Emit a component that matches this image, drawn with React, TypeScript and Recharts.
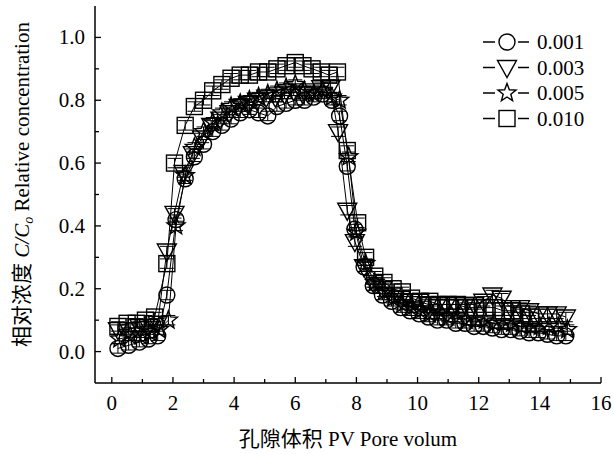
import React from 'react';
import { LineChart, Line, XAxis, YAxis, ErrorBar } from 'recharts';

// ---- data ----
const seriesNames = ['0.001', '0.003', '0.005', '0.010'];

const xCircle = [0.2, 0.55, 0.9, 1.2, 1.5, 1.8, 2.1, 2.4, 2.7, 3.0, 3.3, 3.6, 3.9, 4.2, 4.5, 4.8, 5.1, 5.4, 5.7, 6.0, 6.3, 6.6, 6.9, 7.2, 7.45, 7.7, 7.95, 8.25, 8.55, 8.85, 9.15, 9.45, 9.75, 10.05, 10.35, 10.65, 10.95, 11.25, 11.55, 11.85, 12.15, 12.45, 12.75, 13.05, 13.35, 13.65, 13.95, 14.25, 14.55, 14.85];
const yCircle = [0.01, 0.02, 0.03, 0.04, 0.05, 0.18, 0.42, 0.55, 0.62, 0.66, 0.70, 0.72, 0.74, 0.76, 0.77, 0.76, 0.75, 0.78, 0.79, 0.80, 0.80, 0.81, 0.82, 0.80, 0.75, 0.59, 0.39, 0.27, 0.21, 0.18, 0.16, 0.14, 0.13, 0.12, 0.11, 0.10, 0.10, 0.09, 0.09, 0.08, 0.08, 0.075, 0.07, 0.07, 0.065, 0.06, 0.06, 0.055, 0.05, 0.05];

const xTriangle = [0.2, 0.55, 0.9, 1.2, 1.5, 1.8, 2.05, 2.35, 2.65, 2.95, 3.25, 3.55, 3.85, 4.15, 4.45, 4.75, 5.05, 5.35, 5.65, 5.95, 6.25, 6.55, 6.85, 7.15, 7.4, 7.7, 7.95, 8.25, 8.55, 8.85, 9.15, 9.45, 9.75, 10.05, 10.35, 10.65, 10.95, 11.25, 11.55, 11.85, 12.15, 12.45, 12.75, 13.05, 13.35, 13.65, 13.95, 14.25, 14.55, 14.85];
const yTriangle = [0.07, 0.07, 0.08, 0.08, 0.09, 0.32, 0.44, 0.57, 0.63, 0.68, 0.72, 0.74, 0.76, 0.78, 0.79, 0.80, 0.81, 0.81, 0.82, 0.83, 0.82, 0.83, 0.84, 0.84, 0.70, 0.45, 0.35, 0.27, 0.22, 0.20, 0.18, 0.17, 0.16, 0.16, 0.15, 0.15, 0.15, 0.15, 0.15, 0.15, 0.16, 0.18, 0.17, 0.14, 0.14, 0.13, 0.12, 0.12, 0.12, 0.11];

const xStar = [0.25, 0.6, 0.95, 1.25, 1.55, 1.85, 2.1, 2.4, 2.7, 3.0, 3.3, 3.6, 3.9, 4.2, 4.5, 4.8, 5.1, 5.4, 5.7, 6.0, 6.3, 6.6, 6.9, 7.2, 7.45, 7.75, 8.0, 8.3, 8.6, 8.9, 9.2, 9.5, 9.8, 10.1, 10.4, 10.7, 11.0, 11.3, 11.6, 11.9, 12.2, 12.5, 12.8, 13.1, 13.4, 13.7, 14.0, 14.3, 14.6, 14.9];
const yStar = [0.04, 0.05, 0.05, 0.06, 0.07, 0.10, 0.40, 0.56, 0.65, 0.70, 0.73, 0.76, 0.78, 0.79, 0.80, 0.81, 0.82, 0.83, 0.84, 0.85, 0.83, 0.82, 0.83, 0.81, 0.80, 0.62, 0.38, 0.28, 0.22, 0.19, 0.17, 0.15, 0.14, 0.13, 0.12, 0.12, 0.11, 0.11, 0.10, 0.10, 0.10, 0.09, 0.09, 0.09, 0.08, 0.08, 0.08, 0.08, 0.08, 0.07];

const xSquare = [0.2, 0.5, 0.8, 1.1, 1.4, 1.8, 2.05, 2.4, 2.7, 3.0, 3.3, 3.6, 3.9, 4.2, 4.5, 4.8, 5.1, 5.4, 5.7, 6.0, 6.25, 6.55, 6.85, 7.1, 7.38, 7.7, 8.04, 8.3, 8.6, 8.9, 9.2, 9.5, 9.8, 10.1, 10.4, 10.7, 11.0, 11.3, 11.6, 11.9, 12.2, 12.5, 12.8, 13.1, 13.4, 13.7];
const ySquare = [0.08, 0.09, 0.09, 0.10, 0.11, 0.28, 0.60, 0.72, 0.78, 0.80, 0.83, 0.85, 0.87, 0.88, 0.88, 0.89, 0.89, 0.90, 0.91, 0.92, 0.91, 0.90, 0.89, 0.88, 0.89, 0.64, 0.41, 0.30, 0.24, 0.22, 0.20, 0.19, 0.17, 0.16, 0.16, 0.15, 0.15, 0.15, 0.14, 0.14, 0.14, 0.14, 0.13, 0.13, 0.12, 0.11];

// typical half-width of the small error bars drawn through each marker
const errCircle = 0.015;
const errTriangle = 0.015;
const errStar = 0.015;
const errSquare = 0.015;

const xTicks = [0, 1, 2, 3, 4, 5, 6, 7, 8, 9, 10, 11, 12, 13, 14, 15, 16];
const yTicks = [0, 0.1, 0.2, 0.3, 0.4, 0.5, 0.6, 0.7, 0.8, 0.9, 1.0];

const xLabel = '孔隙体积 PV Pore volum';

const toRows = (xs: number[], ys: number[], e: number) => xs.map((x, i) => ({ x, y: ys[i], err: e }));
const dataCircle = toRows(xCircle, yCircle, errCircle);
const dataTriangle = toRows(xTriangle, yTriangle, errTriangle);
const dataStar = toRows(xStar, yStar, errStar);
const dataSquare = toRows(xSquare, ySquare, errSquare);

const FONT = '"Liberation Serif", "Noto Sans CJK SC", serif';

type Shape = 'circle' | 'triangle' | 'star' | 'square';

function starPoints(cx: number, cy: number, ro: number, ri: number) {
  const pts: string[] = [];
  for (let i = 0; i < 10; i++) {
    const r = i % 2 === 0 ? ro : ri;
    const a = -Math.PI / 2 + (i * Math.PI) / 5;
    pts.push(`${cx + r * Math.cos(a)},${cy + r * Math.sin(a)}`);
  }
  return pts.join(' ');
}

function Marker({ shape, cx, cy }: { shape: Shape; cx: number; cy: number }) {
  const common = { fill: 'none', stroke: '#000', strokeWidth: 1.4 };
  if (shape === 'circle') return <circle cx={cx} cy={cy} r={8} {...common} />;
  if (shape === 'square') return <rect x={cx - 8} y={cy - 8} width={16} height={16} {...common} />;
  if (shape === 'triangle')
    return <polygon points={`${cx - 9.5},${cy - 7} ${cx + 9.5},${cy - 7} ${cx},${cy + 10}`} {...common} />;
  return <polygon points={starPoints(cx, cy, 9.5, 4)} {...common} />;
}

const makeDot = (shape: Shape) => (props: any) => {
  const { cx, cy, index } = props;
  if (cx == null || cy == null) return <g key={`${shape}-${index}`} />;
  return (
    <g key={`${shape}-${index}`}>
      <Marker shape={shape} cx={cx} cy={cy} />
    </g>
  );
};

const XTick = (props: any) => {
  const { x, y, payload } = props;
  const v = payload.value as number;
  const major = v % 2 === 0;
  return (
    <g>
      <line x1={x} y1={y} x2={x} y2={y - (major ? 6 : 4)} stroke="#000" strokeWidth={1.3} />
      {major && (
        <text x={x} y={y + 27} textAnchor="middle" fontFamily={FONT} fontSize={21} fill="#000">
          {v}
        </text>
      )}
    </g>
  );
};

const YTick = (props: any) => {
  const { x, y, payload } = props;
  const v = payload.value as number;
  const major = Math.round(v * 10) % 2 === 0;
  return (
    <g>
      <line x1={x} y1={y} x2={x + (major ? 6 : 4)} y2={y} stroke="#000" strokeWidth={1.3} />
      {major && (
        <text x={x - 10} y={y + 7} textAnchor="end" fontFamily={FONT} fontSize={21} fill="#000">
          {v.toFixed(1)}
        </text>
      )}
    </g>
  );
};

const YLabel = (props: any) => {
  const vb = props.viewBox || {};
  const cx = (vb.x ?? 0) + 22;
  const cy = (vb.y ?? 0) + (vb.height ?? 0) / 2 - 10;
  return (
    <text
      x={cx}
      y={cy}
      transform={`rotate(-90 ${cx} ${cy})`}
      textAnchor="middle"
      dominantBaseline="central"
      fontFamily={FONT}
      fontSize={21}
      fill="#000"
    >
      <tspan>相对浓度 </tspan>
      <tspan fontStyle="italic">C/C</tspan>
      <tspan fontStyle="italic" fontSize={14} dy={6}>o</tspan>
      <tspan dy={-6}> Relative concentration</tspan>
    </text>
  );
};

const XLabel = (props: any) => {
  const vb = props.viewBox || {};
  const cx = (vb.x ?? 0) + (vb.width ?? 0) / 2;
  const y = (vb.y ?? 0) + 63;
  return (
    <text x={cx} y={y} textAnchor="middle" fontFamily={FONT} fontSize={21} fill="#000">
      {xLabel}
    </text>
  );
};

const legendShapes: Shape[] = ['circle', 'triangle', 'star', 'square'];

const errBar = <ErrorBar dataKey="err" direction="y" width={7} stroke="#000" strokeWidth={1} />;

export default function App() {
  return (
    <div style={{ position: 'absolute', left: 0, top: 0, width: 614, height: 454, background: '#fff' }}>
      <LineChart width={614} height={454} margin={{ top: 6, right: 13, bottom: 0, left: 0 }}>
        <XAxis
          dataKey="x"
          type="number"
          domain={[-0.55, 16]}
          ticks={xTicks}
          interval={0}
          allowDataOverflow
          height={71}
          tickSize={0}
          tickMargin={0}
          tickLine={false}
          axisLine={{ stroke: '#000', strokeWidth: 1.5 }}
          tick={<XTick />}
          label={<XLabel />}
        />
        <XAxis
          xAxisId="top"
          orientation="top"
          type="number"
          domain={[-0.55, 16]}
          height={0}
          tick={false}
          tickLine={false}
          axisLine={{ stroke: '#000', strokeWidth: 1.5 }}
        />
        <YAxis
          type="number"
          domain={[-0.1, 1.1]}
          ticks={yTicks}
          interval={0}
          allowDataOverflow
          width={95}
          tickSize={0}
          tickMargin={0}
          tickLine={false}
          axisLine={{ stroke: '#000', strokeWidth: 1.5 }}
          tick={<YTick />}
          label={<YLabel />}
        />
        <YAxis
          yAxisId="right"
          orientation="right"
          type="number"
          domain={[-0.1, 1.1]}
          width={0}
          tick={false}
          tickLine={false}
          axisLine={{ stroke: '#000', strokeWidth: 1.5 }}
        />
        <Line data={dataSquare} dataKey="y" name={seriesNames[3]} stroke="#000" strokeWidth={1} dot={makeDot('square')} activeDot={false} isAnimationActive={false}>
          {errBar}
        </Line>
        <Line data={dataStar} dataKey="y" name={seriesNames[2]} stroke="#000" strokeWidth={1} dot={makeDot('star')} activeDot={false} isAnimationActive={false}>
          {errBar}
        </Line>
        <Line data={dataTriangle} dataKey="y" name={seriesNames[1]} stroke="#000" strokeWidth={1} dot={makeDot('triangle')} activeDot={false} isAnimationActive={false}>
          {errBar}
        </Line>
        <Line data={dataCircle} dataKey="y" name={seriesNames[0]} stroke="#000" strokeWidth={1} dot={makeDot('circle')} activeDot={false} isAnimationActive={false}>
          {errBar}
        </Line>
      </LineChart>
      <svg width={132} height={110} style={{ position: 'absolute', left: 478, top: 28 }}>
        {legendShapes.map((s, i) => {
          const cy = 14 + i * 25.5;
          return (
            <g key={s}>
              <line x1={5} y1={cy} x2={17} y2={cy} stroke="#000" strokeWidth={1.5} />
              <Marker shape={s} cx={29} cy={cy} />
              <line x1={40} y1={cy} x2={51} y2={cy} stroke="#000" strokeWidth={1.5} />
              <text x={59} y={cy + 7} fontFamily={FONT} fontSize={21} fill="#000">
                {seriesNames[i]}
              </text>
            </g>
          );
        })}
      </svg>
    </div>
  );
}
